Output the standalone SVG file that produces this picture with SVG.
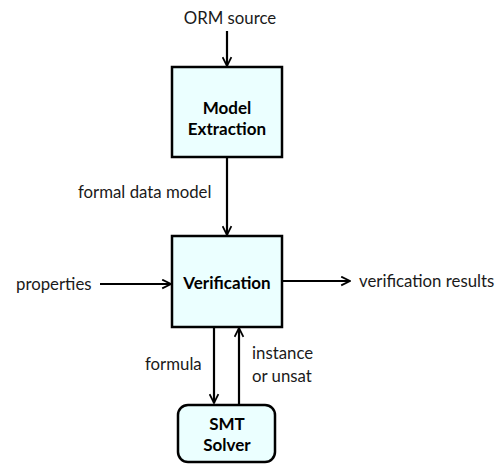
<svg xmlns="http://www.w3.org/2000/svg" width="498" height="465" viewBox="0 0 498 465">
<defs>
<style>
.box{fill:#ebffff;stroke:#000;stroke-width:2.5}
.lbl{font-family:Lato,"Liberation Sans",sans-serif;font-size:16.8px;fill:#1a1a1a}
.bold{font-family:Lato,"Liberation Sans",sans-serif;font-size:17px;font-weight:bold;fill:#000;text-anchor:middle}
.edge{stroke:#000;stroke-width:2.2;fill:none;marker-end:url(#arr)}
</style>
<marker id="arr" viewBox="0 0 10 10" refX="9" refY="5" markerWidth="5" markerHeight="5" orient="auto" markerUnits="strokeWidth">
<path d="M1,1 L9,5 L1,9" fill="none" stroke="#000" stroke-width="1.6"/>
</marker>
</defs>
<rect width="498" height="465" fill="#fff"/>
<g id="connectors">
<line class="edge" x1="227" y1="31" x2="227" y2="66"/>
<line class="edge" x1="227" y1="157" x2="227" y2="235"/>
<line class="edge" x1="100" y1="284" x2="171" y2="284"/>
<line class="edge" x1="282" y1="281" x2="350" y2="281"/>
<line class="edge" x1="214" y1="327" x2="214" y2="403"/>
<line class="edge" x1="239" y1="404" x2="239" y2="328"/>
<text class="lbl" x="230" y="24" text-anchor="middle">ORM source</text>
<text class="lbl" x="78" y="198">formal data model</text>
<text class="lbl" x="16" y="290">properties</text>
<text class="lbl" x="359" y="287">verification results</text>
<text class="lbl" x="145" y="370">formula</text>
<text class="lbl" x="252" y="359">instance</text>
<text class="lbl" x="252" y="382">or unsat</text>
</g>
<g id="model-extraction">
<rect class="box" x="172" y="67" width="110" height="90"/>
<text class="bold" x="227" y="114">Model</text>
<text class="bold" x="227" y="135">Extraction</text>
</g>
<g id="verification">
<rect class="box" x="172" y="236" width="110" height="91"/>
<text class="bold" x="227" y="289">Verification</text>
</g>
<g id="smt-solver">
<rect class="box" x="178" y="405" width="97" height="57" rx="10"/>
<text class="bold" x="227" y="430">SMT</text>
<text class="bold" x="227" y="451">Solver</text>
</g>
</svg>
